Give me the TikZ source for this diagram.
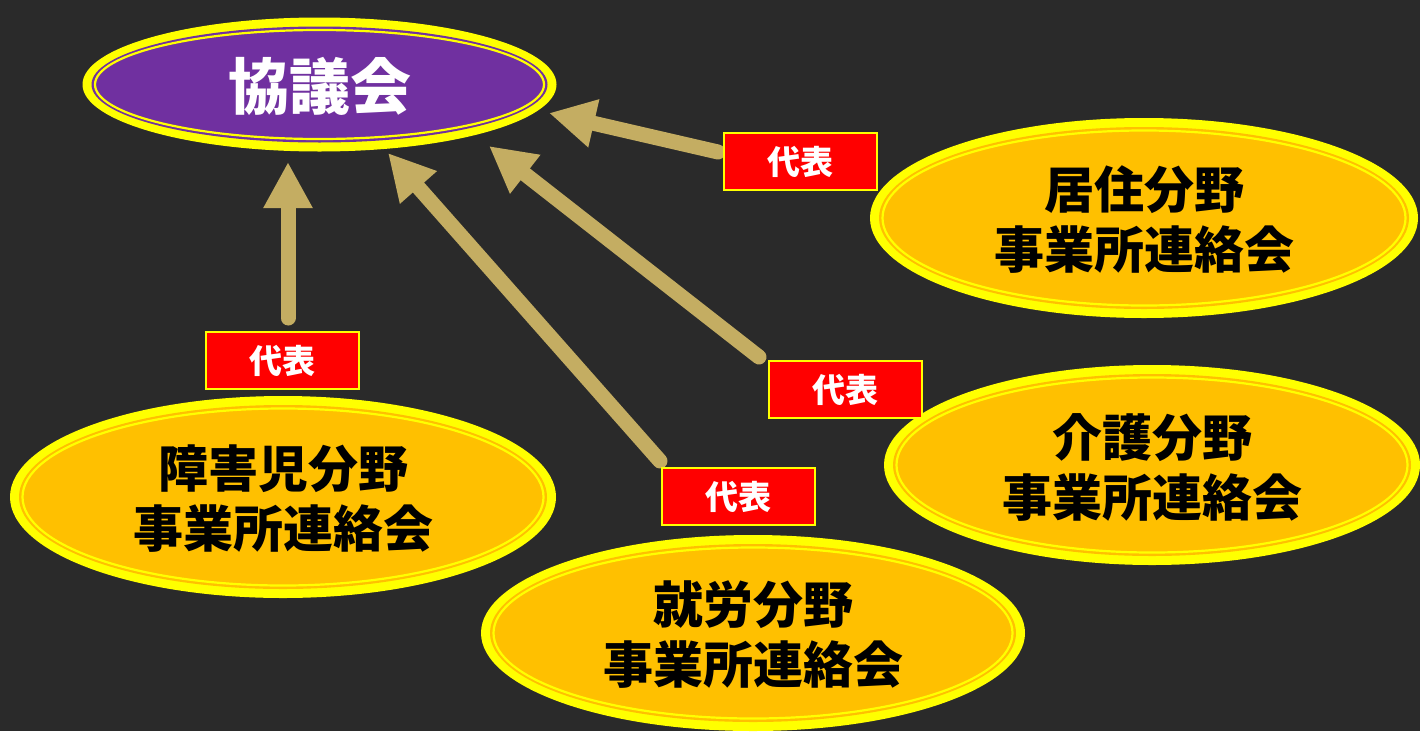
\documentclass[tikz,border=0pt]{standalone}
\usepackage{fontspec}
\newfontfamily\jp{Noto Sans CJK JP}[BoldFont={Noto Sans CJK JP Black}]
\usetikzlibrary{arrows.meta,shapes.geometric}
\definecolor{bgc}{HTML}{2A2A2A}
\definecolor{ybright}{HTML}{FFFF00}
\definecolor{purp}{HTML}{7030A0}
\definecolor{orng}{HTML}{FFC000}
\definecolor{redb}{HTML}{FF0000}
\definecolor{tanc}{HTML}{C4AD62}
\newcommand\layeredoval[6]{%
  \fill[ybright] (#1,#2) ellipse [x radius={#3pt}, y radius={#4pt}];
  \fill[#5] (#1,#2) ellipse [x radius={#3pt-#6pt}, y radius={#4pt-#6pt}];
  \draw[ybright, line width=2.2pt] (#1,#2) ellipse [x radius={#3pt-#6pt-3.5pt}, y radius={#4pt-#6pt-3.5pt}];
}
\begin{document}
\begin{tikzpicture}[x=1pt,y=-1pt,
  txt/.style={ellipse, inner sep=0pt, align=center, text=black,
    font=\jp\bfseries\fontsize{50}{60}\selectfont},
  rep/.style={fill=redb, draw=ybright, line width=1.2pt, minimum width=153pt,
    minimum height=57pt, inner sep=0pt, text=white,
    font=\jp\bfseries\fontsize{33}{33}\selectfont},
  arr/.style={draw=tanc, line width=15pt, line cap=round,
    -{Triangle[width=46pt,length=46pt,fill=tanc]}}]
\useasboundingbox (0,0) rectangle (1420,731);
\fill[bgc] (0,0) rectangle (1420,731);
% ovals
\layeredoval{319.5}{84.5}{237}{67}{purp}{9}
\layeredoval{1144}{218}{274}{100}{orng}{9}
\layeredoval{1152}{465}{268}{100}{orng}{9}
\layeredoval{283}{497}{273}{101}{orng}{9}
\layeredoval{753}{633}{272}{98}{orng}{9}
% texts
\node[ellipse, inner sep=0pt, minimum width=474pt, minimum height=134pt, text=white,
  font=\jp\bfseries\fontsize{61}{61}\selectfont] (kyo) at (319.5,86) {協議会};
\node[txt, minimum width=548pt, minimum height=200pt] (kyoju) at (1144,220) {居住分野\\事業所連絡会};
\node[txt, minimum width=536pt, minimum height=200pt] (kaigo) at (1152,467) {介護分野\\事業所連絡会};
\node[txt, minimum width=546pt, minimum height=202pt] (shogai) at (283,499) {障害児分野\\事業所連絡会};
\node[txt, minimum width=544pt, minimum height=196pt] (shuro) at (753,635) {就労分野\\事業所連絡会};
% arrow ends
\coordinate (t1) at (718,152); \coordinate (h1) at (549,113);
\coordinate (t2) at (288,318); \coordinate (h2) at (288,162);
\coordinate (t3) at (660,461); \coordinate (h3) at (388,153);
\coordinate (t4) at (759,357); \coordinate (h4) at (489,146);
\draw[arr] (t1) -- (h1);
\draw[arr] (t2) -- (h2);
\draw[arr] (t3) -- (h3);
\draw[arr] (t4) -- (h4);
% labels
\node[rep] (r1) at (800.5,161.5) {代表};
\node[rep] (r2) at (282.5,360.5) {代表};
\node[rep] (r3) at (845.5,389.5) {代表};
\node[rep] (r4) at (738.5,496.5) {代表};
\end{tikzpicture}
\end{document}
